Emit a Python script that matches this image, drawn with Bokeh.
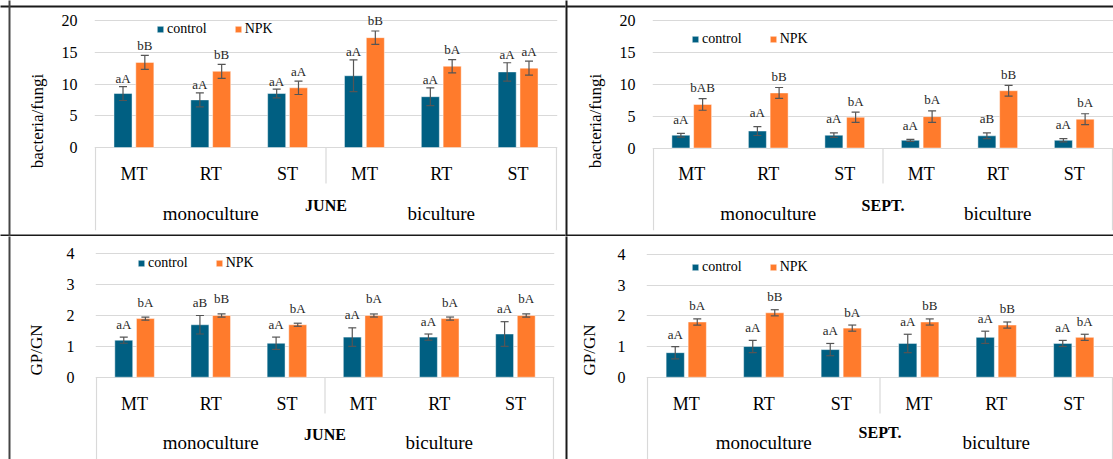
import numpy as np
from bokeh.plotting import figure
from bokeh.models import (ColumnDataSource, Range1d, FixedTicker, Whisker, TeeHead,
                          Label, Legend, LegendItem)
from bokeh.layouts import column, row
from bokeh.embed import file_html
from bokeh.resources import INLINE
from bokeh.core.properties import value

# ---------------- data ----------------
categories = ["MT", "RT", "ST", "MT", "RT", "ST"]
groups = ["monoculture", "biculture"]
series = ["control", "NPK"]

A_control = [8.5, 7.5, 8.5, 11.3, 8.0, 11.9]
A_control_err = [1.1, 1.1, 0.7, 2.5, 1.4, 1.45]
A_npk = [13.4, 12.0, 9.4, 17.3, 12.8, 12.5]
A_npk_err = [1.1, 1.1, 1.05, 1.05, 1.05, 1.1]
A_control_lab = ["aA", "aA", "aA", "aA", "aA", "aA"]
A_npk_lab = ["bB", "bB", "aA", "bB", "bA", "aA"]

B_control = [2.0, 2.65, 2.0, 1.2, 1.9, 1.2]
B_control_err = [0.3, 0.7, 0.35, 0.15, 0.45, 0.25]
B_npk = [6.8, 8.6, 4.8, 4.9, 8.95, 4.5]
B_npk_err = [0.9, 0.85, 0.8, 0.9, 0.85, 0.85]
B_control_lab = ["aA", "aA", "aA", "aA", "aB", "aA"]
B_npk_lab = ["bAB", "bB", "bA", "bA", "bB", "bA"]

C_control = [1.2, 1.7, 1.1, 1.3, 1.3, 1.4]
C_control_err = [0.1, 0.3, 0.2, 0.3, 0.1, 0.4]
C_npk = [1.9, 2.0, 1.7, 2.0, 1.9, 2.0]
C_npk_err = [0.05, 0.05, 0.05, 0.05, 0.05, 0.05]
C_control_lab = ["aA", "aB", "aA", "aA", "aA", "aA"]
C_npk_lab = ["bA", "bB", "bA", "bA", "bA", "bA"]

D_control = [0.8, 1.0, 0.9, 1.1, 1.3, 1.1]
D_control_err = [0.2, 0.2, 0.2, 0.3, 0.2, 0.1]
D_npk = [1.8, 2.1, 1.6, 1.8, 1.7, 1.3]
D_npk_err = [0.1, 0.1, 0.1, 0.1, 0.1, 0.1]
D_control_lab = ["aA", "aA", "aA", "aA", "aA", "aA"]
D_npk_lab = ["bA", "bB", "bA", "bB", "bB", "bA"]

ticks_bf = [0, 5, 10, 15, 20]
ticks_gp = [0, 1, 2, 3, 4]

# ---------------- style ----------------
FONT = "Liberation Serif"
C_CTRL = "#005F82"
C_NPK = "#FF7B2C"
GRID = "#D9D9D9"
BW = 0.235
OFF = 0.142


def make_panel(cfg, ctrl, ctrl_err, npk, npk_err, ctrl_lab, npk_lab, ticks,
               ylabel, tag, month):
    n = len(categories)
    bl, br = cfg["box_left"], cfg["box_right"]
    FL, FR = bl - 1, br + 1
    FT, FB = cfg["frame_top"], cfg["frame_bottom"]
    fl, ft, fw, fh = cfg["fig"]
    ppx = (br - bl) / n
    ppu = (cfg["y0"] - cfg["ytop_px"]) / ticks[-1]

    def x_of(px):
        return -0.5 + (px - bl) / ppx

    def y_of(py):
        return (cfg["y0"] - py) / ppu

    p = figure(width=fw, height=fh,
               x_range=Range1d(x_of(FL), x_of(FR)),
               y_range=Range1d(y_of(FB), y_of(FT)),
               output_backend="svg", toolbar_location=None,
               x_axis_location=None,
               min_border_left=FL - fl, min_border_right=fl + fw - FR,
               min_border_top=FT - ft, min_border_bottom=ft + fh - FB)
    p.outline_line_color = None
    p.background_fill_color = "white"
    p.border_fill_color = "white"
    p.xgrid.visible = False
    p.ygrid.grid_line_color = GRID
    p.ygrid.grid_line_width = 1

    ax = p.yaxis[0]
    ax.ticker = FixedTicker(ticks=ticks)
    ax.axis_line_color = None
    ax.major_tick_line_color = None
    ax.minor_tick_line_color = None
    ax.major_tick_out = 0
    ax.major_tick_in = 0
    ax.major_label_standoff = cfg["tick_standoff"]
    ax.major_label_text_font = FONT
    ax.major_label_text_font_size = "16px"
    ax.major_label_text_color = "#000000"
    ax.axis_label = ylabel
    ax.axis_label_text_font = FONT
    ax.axis_label_text_font_style = "normal"
    ax.axis_label_text_font_size = "17px"
    ax.axis_label_text_color = "#000000"
    ax.axis_label_standoff = cfg["label_standoff"]

    idx = np.arange(n, dtype=float)
    ctrl = np.array(ctrl, dtype=float)
    npk = np.array(npk, dtype=float)
    ce = np.array(ctrl_err, dtype=float)
    ne = np.array(npk_err, dtype=float)
    src = ColumnDataSource(dict(
        xc=idx - OFF, xn=idx + OFF,
        ctrl=ctrl, npk=npk,
        c_lo=ctrl - ce, c_hi=ctrl + ce,
        n_lo=npk - ne, n_hi=npk + ne,
        c_lab=ctrl_lab, n_lab=npk_lab,
    ))

    r1 = p.vbar(x="xc", top="ctrl", bottom=0, width=BW, source=src,
                fill_color=C_CTRL, line_color="white", line_alpha=0.45, line_width=1)
    r2 = p.vbar(x="xn", top="npk", bottom=0, width=BW, source=src,
                fill_color=C_NPK, line_color="white", line_alpha=0.45, line_width=1)

    for base, lo, hi in (("xc", "c_lo", "c_hi"), ("xn", "n_lo", "n_hi")):
        w = Whisker(base=base, lower=lo, upper=hi, source=src,
                    line_color="#555555", line_width=1.2,
                    upper_head=TeeHead(size=8, line_color="#555555", line_width=1.2),
                    lower_head=TeeHead(size=8, line_color="#555555", line_width=1.2))
        w.level = "annotation"
        p.add_layout(w)

    p.text(x="xc", y="c_hi", text="c_lab", source=src, text_align="center",
           text_baseline="middle", y_offset=-cfg["lab_off_c"],
           text_font=value(FONT), text_font_size="13px", text_color="#262626")
    p.text(x="xn", y="n_hi", text="n_lab", source=src, text_align="center",
           text_baseline="middle", y_offset=-cfg["lab_off_n"],
           text_font=value(FONT), text_font_size="13px", text_color="#262626")

    # category box of the axis
    ybot = y_of(FB)
    ysep = y_of(cfg["sep_bottom"])
    gsep = idx.reshape(len(groups), -1)[:-1, -1] + 0.5
    p.segment(x0=[idx[0] - 0.5, idx[-1] + 0.5] + list(gsep), y0=[0, 0] + [0] * len(gsep),
              x1=[idx[0] - 0.5, idx[-1] + 0.5] + list(gsep), y1=[ybot, ybot] + [ysep] * len(gsep),
              line_color=GRID, line_width=1.2)

    cat_src = ColumnDataSource(dict(x=idx, t=categories))
    p.text(x="x", y=y_of(cfg["cat_y"]), text="t", source=cat_src,
           text_align="center", text_baseline="middle",
           text_font=value(FONT), text_font_size="18px", text_color="#000000")
    gcent = idx.reshape(len(groups), -1).mean(axis=1)
    grp_src = ColumnDataSource(dict(x=gcent, t=groups))
    p.text(x="x", y=y_of(cfg["grp_y"]), text="t", source=grp_src,
           text_align="center", text_baseline="middle",
           text_font=value(FONT), text_font_size="19px", text_color="#000000")

    p.add_layout(Label(x=float(gsep[0]), y=y_of(cfg["month_y"]), text=month,
                       text_align="center", text_baseline="middle",
                       text_font=FONT, text_font_style="bold",
                       text_font_size="16px", text_color="#000000"))
    p.add_layout(Label(x=x_of(cfg["tag_x"]), y=y_of(cfg["tag_y"]), text=tag,
                       text_align="center", text_baseline="middle",
                       text_font=FONT, text_font_style="bold",
                       text_font_size="13px", text_color="#000000"))

    # legend
    lh = 15
    legend = Legend(items=[LegendItem(label=series[0], renderers=[r1]),
                           LegendItem(label=series[1], renderers=[r2])],
                    orientation="horizontal",
                    location=(cfg["leg_x"] - FL, FB - cfg["leg_y"] - lh / 2),
                    glyph_width=8, glyph_height=8, label_standoff=3, spacing=27,
                    padding=0, margin=0, label_height=lh,
                    border_line_color=None, background_fill_alpha=0,
                    label_text_font="'Liberation Serif', serif", label_text_font_size="14px",
                    label_text_color="#000000")
    p.add_layout(legend)

    # panel frame borders (horizontal lines at given y, vertical lines at given x)
    for (yy, col) in cfg["hlines"]:
        p.segment(x0=x_of(fl), y0=y_of(yy), x1=x_of(fl + fw), y1=y_of(yy),
                  line_color=col, line_width=2, level="overlay")
    for (xx, col) in cfg["vlines"]:
        p.segment(x0=x_of(xx), y0=y_of(ft), x1=x_of(xx), y1=y_of(ft + fh),
                  line_color=col, line_width=2, level="overlay")
    return p


cfgA = dict(fig=(0, 0, 565, 236), box_left=95, box_right=556, frame_top=11, frame_bottom=230,
            y0=147, ytop_px=20, tick_standoff=17, label_standoff=12,
            lab_off_c=8, lab_off_n=10, cat_y=173, grp_y=213, sep_bottom=183,
            month_y=205, tag_x=68, tag_y=202, leg_x=156, leg_y=29,
            hlines=[(6, "#1a1a1a"), (235, "#1a1a1a")], vlines=[(9, "#444444")])
cfgB = dict(fig=(565, 0, 548, 236), box_left=653, box_right=1112, frame_top=11, frame_bottom=230,
            y0=147.5, ytop_px=19.5, tick_standoff=17, label_standoff=12,
            lab_off_c=14, lab_off_n=11, cat_y=173, grp_y=213, sep_bottom=183,
            month_y=205, tag_x=624, tag_y=202, leg_x=691, leg_y=39,
            hlines=[(6, "#1a1a1a"), (235, "#1a1a1a")], vlines=[(566, "#1a1a1a")])
cfgC = dict(fig=(0, 236, 565, 223), box_left=96, box_right=553, frame_top=240, frame_bottom=459,
            y0=376.7, ytop_px=253.3, tick_standoff=21, label_standoff=18,
            lab_off_c=13, lab_off_n=15, cat_y=403, grp_y=442, sep_bottom=413,
            month_y=434, tag_x=59, tag_y=432, leg_x=137, leg_y=263,
            hlines=[], vlines=[(9, "#444444")])
cfgD = dict(fig=(565, 236, 548, 223), box_left=647, box_right=1112, frame_top=240, frame_bottom=459,
            y0=376.7, ytop_px=254, tick_standoff=21, label_standoff=16,
            lab_off_c=12.5, lab_off_n=13, cat_y=403, grp_y=442, sep_bottom=413,
            month_y=432, tag_x=611, tag_y=433, leg_x=691, leg_y=267,
            hlines=[], vlines=[(566, "#1a1a1a")])

pA = make_panel(cfgA, A_control, A_control_err, A_npk, A_npk_err, A_control_lab, A_npk_lab,
                ticks_bf, "bacteria/fungi", "(A)", "JUNE")
pB = make_panel(cfgB, B_control, B_control_err, B_npk, B_npk_err, B_control_lab, B_npk_lab,
                ticks_bf, "bacteria/fungi", "(B)", "SEPT.")
pC = make_panel(cfgC, C_control, C_control_err, C_npk, C_npk_err, C_control_lab, C_npk_lab,
                ticks_gp, "GP/GN", "(C)", "JUNE")
pD = make_panel(cfgD, D_control, D_control_err, D_npk, D_npk_err, D_control_lab, D_npk_lab,
                ticks_gp, "GP/GN", "(D)", "SEPT.")

layout = column(row(pA, pB), row(pC, pD))
open("out.html", "w").write(file_html(layout, INLINE))
